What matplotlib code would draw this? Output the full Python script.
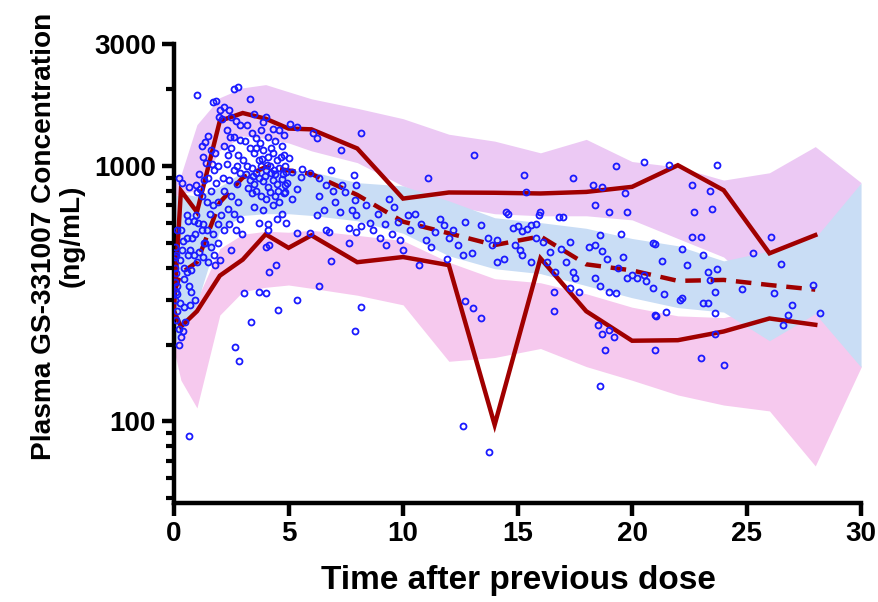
import numpy as np
import matplotlib
matplotlib.use("Agg")
import matplotlib.pyplot as plt
from matplotlib.ticker import FixedLocator, NullFormatter

# prediction interval bands (simulated), by time bin
band_t = [0, 0.3, 1, 2, 3, 4, 5, 6, 8, 10, 12, 14, 16, 18, 20, 22, 24, 26, 28, 30]
upper_hi = [900, 920, 1450, 1850, 2020, 2080, 1950, 1830, 1680, 1530, 1330, 1250, 1125, 1270, 1040, 990, 880, 940, 1190, 860]
upper_lo = [760, 780, 800, 1150, 1310, 1280, 1230, 1145, 1030, 835, 700, 650, 638, 638, 615, 520, 440, 300, 450, 860]
mid_hi = [760, 780, 760, 830, 950, 970, 965, 950, 860, 835, 730, 627, 600, 570, 520, 487, 425, 465, 523, 858]
mid_lo = [200, 220, 290, 560, 640, 650, 650, 640, 610, 545, 445, 396, 379, 340, 305, 279, 268, 207, 264, 163]
lower_hi = [250, 240, 300, 475, 540, 555, 550, 560, 535, 510, 420, 362, 349, 316, 280, 259, 255, 280, 290, 165]
lower_lo = [190, 145, 113, 261, 322, 335, 342, 332, 312, 286, 172, 178, 193, 164, 145, 127, 116, 110, 67, 163]

# observed percentiles
obs_t = [0, 0.3, 1, 2, 3, 4, 5, 6, 8, 10, 12, 14, 16, 18, 20, 22, 24, 26, 28]
obs_p95 = [280, 800, 660, 1500, 1610, 1530, 1400, 1390, 1170, 745, 787, 785, 780, 791, 828, 1006, 803, 455, 536]
obs_p50 = [320, 380, 420, 720, 900, 990, 960, 930, 770, 605, 545, 490, 530, 412, 390, 355, 358, 342, 328]
obs_p05 = [270, 235, 270, 372, 430, 540, 478, 535, 420, 440, 409, 97, 435, 270, 207, 208, 225, 253, 239]

# observed concentrations
pts = [
    (0.2, 900), (0.35, 860), (0.65, 830), (0.95, 840), (1.0, 790), (1.15, 810),
    (0.3, 560), (0.15, 560), (0.4, 510), (0.05, 480), (0.1, 450), (0.25, 430), (0.45, 400),
    (0.7, 470), (0.85, 450), (0.75, 390), (0.55, 385), (0.45, 360), (0.65, 340), (0.75, 320),
    (0.15, 315), (0.25, 290), (0.45, 280), (0.7, 285), (0.1, 250), (0.2, 230), (0.4, 225),
    (0.65, 88), (0.05, 350), (0.08, 320), (0.02, 400), (0.1, 380), (0.06, 300), (0.12, 270),
    (0.03, 440), (0.15, 340), (0.55, 640), (0.6, 610), (0.95, 640), (1.05, 600), (1.2, 560),
    (0.9, 540), (0.8, 520), (0.6, 450), (1.0, 420), (1.1, 460), (1.3, 500), (1.25, 440), (0.35, 470),
    (0.3, 215), (0.5, 245), (0.9, 300), (0.2, 200), (0.55, 520), (0.85, 610),
    (1.0, 1900), (1.7, 1780), (1.85, 1800), (2.0, 1660), (1.95, 1550), (1.2, 1200), (1.35, 1240),
    (1.5, 1310), (1.25, 1080), (1.4, 1030), (1.6, 1150), (1.8, 1120), (1.9, 1000), (1.1, 930),
    (1.3, 880), (1.5, 900), (1.75, 960), (1.2, 760), (1.45, 720), (1.6, 800), (1.85, 860),
    (1.55, 650), (1.7, 700), (1.9, 720), (1.25, 590), (1.45, 560), (1.7, 540), (1.9, 590),
    (1.35, 500), (1.6, 480), (1.75, 450), (1.9, 500), (1.8, 410), (2.0, 430), (1.5, 420),
    (2.6, 2000), (2.8, 2030), (3.3, 1820), (2.2, 1700), (2.4, 1650), (2.1, 1520), (2.5, 1560),
    (2.7, 1500), (2.9, 1450), (2.3, 1380), (2.6, 1300), (2.9, 1260), (2.2, 1200), (2.5, 1180),
    (2.8, 1100), (3.0, 1050), (2.3, 1020), (2.6, 960), (2.9, 940), (2.15, 900), (2.4, 880),
    (2.75, 850), (2.2, 800), (2.5, 760), (2.8, 720), (2.35, 680), (2.6, 650), (2.9, 620),
    (2.4, 590), (2.7, 560), (2.95, 540), (2.5, 470), (2.05, 640), (2.2, 560),
    (2.65, 195), (2.85, 172), (3.35, 245), (3.05, 317),
    (3.5, 1600), (3.9, 1480), (4.0, 1550), (4.3, 1400), (4.6, 1380), (4.8, 1320), (3.2, 1450),
    (3.4, 1350), (3.6, 1280), (3.8, 1380), (4.1, 1300), (4.4, 1250), (4.7, 1200), (3.3, 1180),
    (3.5, 1120), (3.7, 1050), (3.9, 1150), (4.1, 1080), (4.3, 1120), (4.5, 1050), (4.8, 1100),
    (3.2, 1000), (3.4, 980), (3.6, 940), (3.8, 1000), (4.0, 960), (4.2, 1000), (4.4, 930),
    (4.6, 980), (4.9, 950), (3.3, 880), (3.5, 850), (3.7, 900), (3.9, 870), (4.1, 830),
    (4.3, 880), (4.5, 850), (4.7, 890), (4.95, 860), (3.4, 780), (3.6, 800), (3.8, 760),
    (4.0, 740), (4.2, 790), (4.4, 760), (4.6, 720), (4.8, 780), (3.5, 690), (3.9, 670),
    (4.3, 700), (4.7, 650), (3.7, 600), (4.1, 590), (4.5, 620), (4.9, 600), (4.0, 480),
    (4.15, 490), (4.1, 560), (4.15, 385), (4.45, 410), (4.0, 318), (3.7, 320), (4.55, 272),
    (3.6, 1180), (3.75, 1230), (4.25, 1170), (4.05, 1010), (3.95, 910), (4.35, 960), (4.65, 1080),
    (3.45, 910), (4.55, 800), (4.85, 1000), (3.25, 820), (3.85, 1060), (4.25, 940), (4.75, 930),
    (1.65, 1020), (2.35, 1100), (2.75, 1000), (2.45, 1300), (3.1, 1250), (3.15, 930),
    (5.05, 1460), (5.35, 1420), (6.05, 1340), (6.25, 1280), (7.3, 1150), (8.15, 1340),
    (5.0, 1070), (5.15, 950), (5.55, 905), (4.85, 840), (5.95, 935), (6.35, 895), (6.65, 840),
    (6.85, 965), (6.95, 800), (7.35, 840), (7.45, 790), (7.85, 920), (7.95, 840), (7.9, 735),
    (7.75, 670), (7.95, 640), (7.65, 570), (7.95, 550), (8.15, 580), (6.65, 560), (6.75, 550),
    (5.95, 545), (5.35, 545), (4.85, 790), (5.15, 745), (5.35, 815), (5.6, 975), (6.35, 760),
    (6.35, 338), (5.35, 298), (6.85, 425), (7.65, 500), (8.15, 281), (7.9, 225), (6.25, 640),
    (7.05, 720), (7.25, 660), (6.55, 670),
    (8.55, 600), (8.9, 650), (9.4, 745), (9.2, 590), (9.8, 605), (10.2, 640), (10.5, 650),
    (9.85, 515), (9.25, 490), (10.7, 410), (11.1, 895), (11.4, 550), (11.8, 585), (11.9, 434),
    (8.4, 700), (8.7, 560), (9.0, 520), (9.6, 690), (10.3, 560), (10.8, 590), (11.2, 480),
    (11.6, 620), (12.0, 520), (12.2, 560), (12.4, 490), (10.0, 470), (9.5, 540), (11.0, 515),
    (12.7, 296), (13.05, 277), (13.4, 253), (12.6, 96), (13.75, 76), (13.1, 1100),
    (15.3, 925), (15.35, 790),
    (12.7, 605), (13.4, 586), (13.7, 520), (14.1, 512), (14.5, 660), (14.6, 650), (14.8, 570),
    (15.0, 580), (15.2, 555), (15.4, 565), (15.6, 586), (15.8, 595), (14.9, 490), (15.1, 470),
    (14.4, 434), (15.2, 448), (15.95, 640), (16.0, 660), (15.8, 520), (16.1, 505), (16.4, 460),
    (16.8, 630), (16.9, 475), (12.6, 450), (13.0, 455), (13.9, 490), (14.1, 420), (15.6, 420),
    (16.6, 322), (16.6, 270), (16.65, 385), (16.3, 420),
    (17.4, 900), (17.0, 630), (17.3, 505), (17.1, 420), (17.4, 385), (17.5, 364), (17.3, 333),
    (17.7, 322), (18.1, 480), (18.4, 490), (18.6, 535), (18.7, 465), (18.9, 434), (18.4, 364),
    (18.6, 340), (19.0, 322), (19.3, 318), (18.3, 840), (18.7, 830), (19.0, 660), (19.5, 540),
    (19.6, 440), (19.4, 400), (19.8, 660), (19.7, 780), (19.3, 1000), (18.4, 700), (18.5, 239),
    (18.7, 220), (19.0, 228), (19.2, 215), (18.8, 190), (18.6, 138), (20.5, 1040), (19.8, 365),
    (20.0, 375),
    (20.2, 365), (20.5, 375), (20.6, 355), (20.9, 500), (21.0, 495), (20.9, 333), (21.3, 425),
    (21.4, 315), (21.0, 262), (21.05, 258), (21.5, 268), (21.0, 190), (21.6, 1006), (22.2, 472),
    (22.4, 409), (22.6, 528), (22.7, 660), (22.6, 840), (23.0, 528), (23.1, 448), (23.3, 385),
    (23.4, 358), (23.1, 290), (23.3, 290), (23.6, 265), (23.6, 322), (23.7, 395), (22.2, 305),
    (22.1, 300), (23.4, 800), (23.5, 680), (23.7, 1006), (23.0, 177), (24.0, 167), (23.6, 220),
    (24.8, 330), (25.3, 455), (26.05, 528), (26.2, 318), (26.5, 415), (26.6, 239), (26.8, 260),
    (27.0, 285), (27.9, 342), (28.2, 265),
]
obs_time = [p[0] for p in pts]
obs_conc = [p[1] for p in pts]

violet = "#ecc9f4"
pink = "#f6c9ee"
lightblue = "#c9ddf5"
darkred = "#a00000"

fig = plt.figure(figsize=(8.79, 6.02), dpi=100)
ax = fig.add_axes([0.198, 0.1645, 0.7816, 0.7625])

ax.fill_between(band_t, upper_lo, upper_hi, color=violet, lw=0, zorder=1)
ax.fill_between(band_t, lower_lo, lower_hi, color=pink, lw=0, zorder=1)
ax.fill_between(band_t, mid_lo, mid_hi, color=lightblue, lw=0, zorder=2)

ax.plot(obs_t, obs_p95, color=darkred, lw=3.2, zorder=3, solid_joinstyle="miter")
ax.plot(obs_t, obs_p05, color=darkred, lw=3.2, zorder=3, solid_joinstyle="miter")
ax.plot(obs_t, obs_p50, color=darkred, lw=3.2, ls=(0, (3.5, 2.2)), zorder=3)

ax.plot(obs_time, obs_conc, ls="none", marker="o", ms=4.3, mfc="none",
        mec="#1a1aff", mew=1.3, zorder=4)

ax.set_yscale("log")
ax.set_xlim(0, 30)
ax.set_ylim(48, 3000)

ax.set_xticks([0, 5, 10, 15, 20, 25, 30])
ax.yaxis.set_major_locator(FixedLocator([100, 1000, 3000]))
ax.yaxis.set_minor_locator(FixedLocator([50, 60, 70, 80, 90, 200, 300, 400, 500, 600, 700, 800, 900, 2000]))
ax.yaxis.set_minor_formatter(NullFormatter())
ax.set_yticklabels(["100", "1000", "3000"])

for s in ["top", "right"]:
    ax.spines[s].set_visible(False)
for s in ["left", "bottom"]:
    ax.spines[s].set_linewidth(3.2)

ax.tick_params(axis="both", which="major", length=9, width=3.2, direction="out", pad=4)
ax.tick_params(axis="y", which="minor", length=5.5, width=3.0, direction="out")

for lab in ax.get_yticklabels():
    lab.set_fontsize(20)
    lab.set_fontweight("bold")
    lab.set_family("Liberation Sans")
for lab in ax.get_xticklabels():
    lab.set_fontsize(20)
    lab.set_fontweight("bold")
    lab.set_family("Liberation Sans")

fig.text(518 / 879, 1 - 580 / 602, "Time after previous dose", ha="center", va="center",
         fontsize=24, fontweight="bold", family="Liberation Sans")
fig.text(58 / 879, 1 - 236 / 602, "Plasma GS-331007 Concentration\n(ng/mL)", ha="center",
         va="center", rotation=90, multialignment="center", fontsize=20.2, fontweight="bold",
         family="Liberation Sans", linespacing=1.05)

fig.savefig("out.png", dpi=100)
